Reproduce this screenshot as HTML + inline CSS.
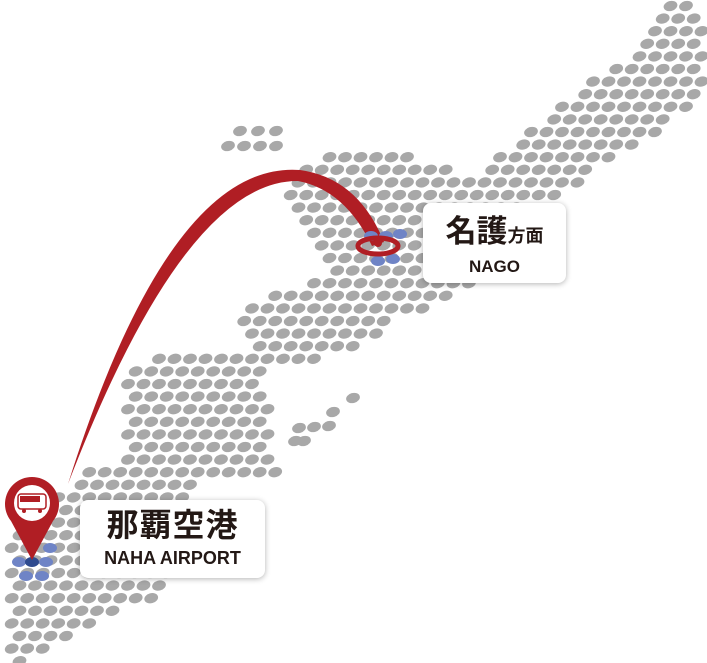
<!DOCTYPE html>
<html><head><meta charset="utf-8">
<style>
html,body{margin:0;padding:0;background:#fff;}
body{width:707px;height:663px;position:relative;overflow:hidden;font-family:"Liberation Sans","Noto Sans CJK JP",sans-serif;}
svg{position:absolute;left:0;top:0;}
.box{position:absolute;background:#fff;border-radius:8px;box-shadow:0 1px 6px rgba(0,0,0,.3);text-align:center;color:#231815;}
</style></head>
<body>
<svg id="s" width="707" height="663" xmlns="http://www.w3.org/2000/svg">
<g id="dots" fill="#a8a8a8"></g>
<path d="M68,484 Q170,160 300,170 Q358,178 384,242 L372,246 Q345,190 298,181 Q185,180 68,484 Z" fill="#b01e24"/>
<g fill="#6f84c6">
<ellipse cx="371" cy="236" rx="7" ry="5"/><ellipse cx="386" cy="236" rx="7" ry="5"/><ellipse cx="400" cy="234" rx="7" ry="5"/>
<ellipse cx="378" cy="261" rx="7" ry="5"/><ellipse cx="393" cy="259" rx="7" ry="5"/>
<ellipse cx="19" cy="562" rx="7" ry="5"/><ellipse cx="46" cy="562" rx="7" ry="5"/><ellipse cx="50" cy="548" rx="7" ry="5"/>
<ellipse cx="26" cy="576" rx="7" ry="5"/><ellipse cx="42" cy="576" rx="7" ry="5"/>
</g>
<ellipse cx="32" cy="562" rx="7" ry="5" fill="#2f4b8f"/>
<ellipse cx="378" cy="246" rx="20" ry="8" fill="none" stroke="#b01e24" stroke-width="5"/>
<circle cx="378" cy="243" r="4" fill="#b01e24"/>
<path d="M32,560 L11,521 A27,27 0 1 1 53,521 Z" fill="#b01e24"/>
<circle cx="32" cy="503" r="18" fill="#fff"/>
<rect x="18" y="494" width="28" height="15" rx="3" fill="none" stroke="#b01e24" stroke-width="1.5"/>
<rect x="20" y="496" width="20" height="6" fill="#b01e24"/>
<circle cx="24" cy="511" r="2" fill="#b01e24"/><circle cx="40" cy="511" r="2" fill="#b01e24"/>
</svg>
<div class="box" style="left:80px;top:500px;width:185px;height:78px;">
<div style="font-size:32px;font-weight:bold;line-height:34px;margin-top:8px;letter-spacing:1px;">那覇空港</div>
<div style="font-size:18px;font-weight:bold;line-height:22px;margin-top:5px;">NAHA AIRPORT</div>
</div>
<div class="box" style="left:423px;top:203px;width:143px;height:80px;">
<div style="line-height:34px;margin-top:12px;"><span style="font-size:31px;font-weight:bold;">名護</span><span style="font-size:18px;font-weight:bold;">方面</span></div>
<div style="font-size:17px;font-weight:bold;line-height:20px;margin-top:2px;">NAGO</div>
</div>
<script>
var polys=[
[[664,2],[684,2],[706,30],[706,100],[660,130],[610,160],[560,195],[520,210],[480,240],[470,285],[440,300],[400,320],[370,340],[330,358],[300,366],[270,362],[250,345],[235,320],[250,302],[290,290],[330,270],[310,250],[290,215],[285,192],[310,160],[330,148],[400,148],[440,165],[470,180],[490,160],[520,140],[560,105],[600,75],[640,45],[655,15]],
[[145,360],[200,350],[240,345],[265,360],[268,400],[268,440],[285,470],[270,478],[200,472],[130,480],[125,440],[118,410],[130,370]],
[[95,468],[205,468],[185,500],[175,560],[170,595],[135,605],[95,618],[75,640],[30,662],[5,662],[5,600],[10,540],[40,515],[60,490]]
];
function inside(p,x,y){var c=false;for(var i=0,j=p.length-1;i<p.length;j=i++){var xi=p[i][0],yi=p[i][1],xj=p[j][0],yj=p[j][1];if(((yi>y)!=(yj>y))&&(x<(xj-xi)*(y-yi)/(yj-yi)+xi))c=!c;}return c;}
var g=document.getElementById('dots'),h='';
function dot(x,y){h+='<ellipse cx="'+x.toFixed(1)+'" cy="'+y.toFixed(1)+'" rx="7" ry="5" transform="rotate(-15 '+x.toFixed(1)+' '+y.toFixed(1)+')"/>';}
for(var r=0;r<53;r++){var y=6+r*12.6;var off=(r%2)*7.7;for(var x=4+off;x<707;x+=15.5){for(var k=0;k<polys.length;k++){if(inside(polys[k],x,y)){dot(x,y);break;}}}}
[[240,131],[258,131],[276,131],[228,146],[244,146],[260,146],[276,146],[353,398],[333,412],[329,426],[314,427],[299,428],[304,441],[295,441]].forEach(function(d){dot(d[0],d[1]);});
g.innerHTML=h;
</script>
</body></html>
